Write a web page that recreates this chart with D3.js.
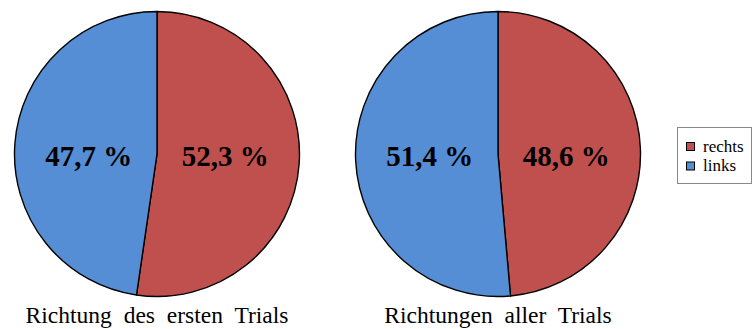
<!DOCTYPE html>
<html>
<head>
<meta charset="utf-8">
<script src="https://cdn.jsdelivr.net/npm/d3@7"></script>
<style>
  html, body { margin: 0; padding: 0; background: #fff; }
  svg { display: block; }
</style>
</head>
<body>
<svg id="chart" width="753" height="329"></svg>
<script>
// Direction shares (percent), one pie per condition
const categories = ["rechts", "links"];
const titles = ["Richtung des ersten Trials", "Richtungen aller Trials"];
const firstTrial = [52.3, 47.7];
const allTrials = [48.6, 51.4];
const seriesValues = [firstTrial, allTrials];
const colors = ["#C0504D", "#558ED5"];

const svg = d3.select("#chart");
const radius = 142.5;
const centers = [{ x: 157, y: 154 }, { x: 498, y: 154 }];

const pie = d3.pie().sort(null).value(d => d.value);
const arc = d3.arc().innerRadius(0).outerRadius(radius);
const color = d3.scaleOrdinal().domain(categories).range(colors);
const fmt = v => d3.format(".1f")(v).replace(".", ",") + " %";

seriesValues.forEach((vals, i) => {
  const data = categories.map((c, j) => ({ cat: c, value: vals[j] }));
  const g = svg.append("g").attr("transform", `translate(${centers[i].x},${centers[i].y})`);
  const arcs = pie(data);

  g.selectAll("path.slice")
    .data(arcs)
    .join("path")
    .attr("class", "slice")
    .attr("d", arc)
    .attr("fill", d => color(d.data.cat))
    .attr("stroke", "#000")
    .attr("stroke-width", 1.4)
    .attr("stroke-linejoin", "round");

  // value labels sit on the horizontal through the centre, inside each half
  const labelArc = d3.arc().innerRadius(radius * 0.48).outerRadius(radius * 0.48);
  g.selectAll("text.val")
    .data(arcs)
    .join("text")
    .attr("class", "val")
    .attr("x", d => labelArc.centroid(d)[0])
    .attr("y", 2)
    .attr("text-anchor", "middle")
    .attr("dy", "0.36em")
    .attr("font-family", "Liberation Serif, Times New Roman, serif")
    .attr("font-weight", "bold")
    .attr("font-size", 29)
    .attr("fill", "#000")
    .text(d => fmt(d.data.value));

  svg.append("text")
    .attr("x", centers[i].x)
    .attr("y", 323)
    .attr("text-anchor", "middle")
    .attr("font-family", "Liberation Serif, Times New Roman, serif")
    .attr("font-size", 23.5)
    .attr("word-spacing", 6)
    .attr("fill", "#000")
    .text(titles[i]);
});

// Legend
const legend = svg.append("g");
legend.append("rect")
  .attr("x", 677.5).attr("y", 127.5)
  .attr("width", 74).attr("height", 56)
  .attr("fill", "#fff")
  .attr("stroke", "#888")
  .attr("stroke-width", 1);

const items = legend.selectAll("g.item")
  .data(categories)
  .join("g")
  .attr("class", "item")
  .attr("transform", (d, i) => `translate(686,${142 + i * 19.5})`);

items.append("rect")
  .attr("x", 0.5).attr("y", 0.5)
  .attr("width", 8).attr("height", 8)
  .attr("fill", d => color(d))
  .attr("stroke", "#000")
  .attr("stroke-width", 1);

items.append("text")
  .attr("x", 17)
  .attr("y", 9.5)
  .attr("font-family", "Liberation Serif, Times New Roman, serif")
  .attr("font-size", 17)
  .attr("fill", "#000")
  .text(d => d);
</script>
</body>
</html>
